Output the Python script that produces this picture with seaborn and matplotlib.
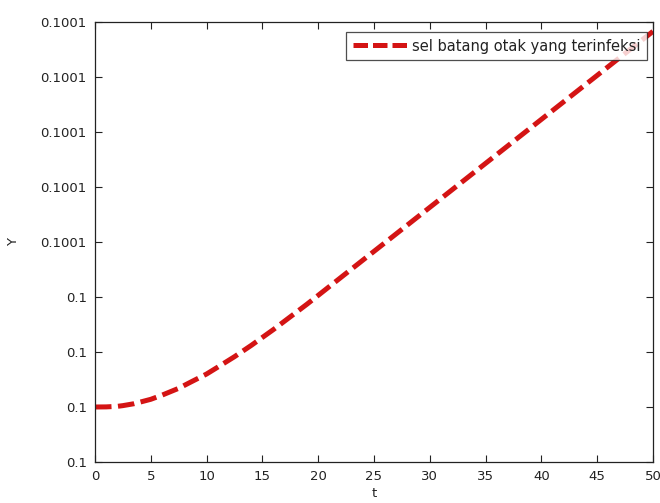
import matplotlib
matplotlib.use("Agg")
import matplotlib.pyplot as plt
import seaborn as sns
import pandas as pd

# data
t_vals = [0, 1, 2, 2.5, 3.5, 5, 6, 7.5, 8.5, 10, 11, 12.5, 14, 15, 16, 17.5, 19,
          20, 21, 22.5, 25, 27.5, 30, 32.5, 35, 37.5, 40, 42.5, 45, 47.5, 50]
y_units = [1.0, 1.002, 1.012, 1.025, 1.06, 1.14, 1.215, 1.34, 1.445, 1.60, 1.725, 1.915,
           2.12, 2.265, 2.41, 2.64, 2.87, 3.03, 3.19, 3.43, 3.83, 4.23, 4.63, 5.03,
           5.43, 5.83, 6.23, 6.63, 7.03, 7.43, 7.83]
y_vals = [0.1 + u * 1e-5 for u in y_units]
series_label = "sel batang otak yang terinfeksi"
x_ticks = [0, 5, 10, 15, 20, 25, 30, 35, 40, 45, 50]
y_ticks = [0.1 + k * 1e-5 for k in range(9)]
y_tick_labels = ["0.1", "0.1", "0.1", "0.1", "0.1001", "0.1001", "0.1001", "0.1001", "0.1001"]

sns.set_theme(style="ticks")
plt.rcParams['font.family'] = ['DejaVu Sans']

fig = plt.figure(figsize=(6.6, 5.03), dpi=100)
ax = fig.add_axes([95/660, 41/503, 558/660, 440/503])

df = pd.DataFrame({"t": t_vals, "Y": y_vals})
sns.lineplot(data=df, x="t", y="Y", ax=ax, color="#d41414", linewidth=3.6,
             label=series_label)
ax.lines[0].set_dashes([3.3, 1.3])

ax.set_xlim(0, 50)
ax.set_ylim(y_ticks[0], y_ticks[-1])
ax.set_xticks(x_ticks)
ax.set_xticklabels([str(v) for v in x_ticks])
ax.set_yticks(y_ticks)
ax.set_yticklabels(y_tick_labels)
ax.tick_params(direction="in", top=True, right=True, length=5, width=0.8,
               labelsize=9.5, colors="#222222", pad=6)
for s in ax.spines.values():
    s.set_visible(True)
    s.set_linewidth(0.9)
    s.set_color("#222222")

ax.set_xlabel("t", fontsize=9.5, labelpad=2.5, color="#222222")
ax.set_ylabel("Y", fontsize=9.5, labelpad=15, color="#222222")

leg = ax.legend(loc="upper right", bbox_to_anchor=((647 - 95) / 558, (471 - 41) / 440),
                fontsize=10.5, frameon=True, fancybox=False,
                handlelength=3.8, borderaxespad=0.0, borderpad=0.45,
                handletextpad=0.27)
leg.get_frame().set_edgecolor("#222222")
leg.get_frame().set_linewidth(0.9)
leg.get_lines()[0].set_dashes([2.9, 1.0])
for txt in leg.get_texts():
    txt.set_color("#222222")

fig.savefig("out.png", dpi=100, facecolor="white")
